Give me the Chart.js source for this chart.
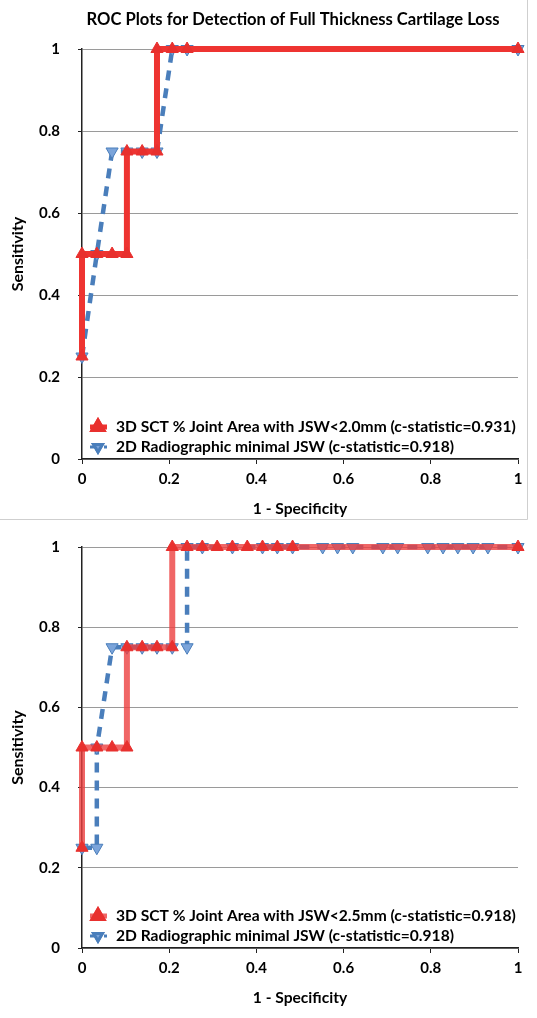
<!DOCTYPE html>
<html>
<head>
<meta charset="utf-8">
<script src="https://cdn.jsdelivr.net/npm/chart.js@4"></script>
<style>
  body { margin: 0; background: #fff; }
  .wrap { position: relative; width: 537px; }
  canvas { display: block; }
</style>
</head>
<body>
<div class="wrap" style="height:520px"><canvas id="rocTop"></canvas></div>
<div class="wrap" style="height:498px"><canvas id="rocBottom"></canvas></div>
<script>
// Data
const chartTitle = 'ROC Plots for Detection of Full Thickness Cartilage Loss';
const tickValues = [0, 0.2, 0.4, 0.6, 0.8, 1];

// top chart: 3D SCT JSW<2.0mm vs 2D radiographic
const sct20Label = '3D SCT % Joint Area with JSW<2.0mm (c-statistic=0.931)';
const sct20X = [0, 0, 0.034, 0.069, 0.103, 0.103, 0.138, 0.172, 0.172, 0.207, 0.241, 1];
const sct20Y = [0.25, 0.5, 0.5, 0.5, 0.5, 0.75, 0.75, 0.75, 1, 1, 1, 1];
const radTopLabel = '2D Radiographic minimal JSW (c-statistic=0.918)';
const radTopX = [0, 0.034, 0.069, 0.103, 0.138, 0.172, 0.207, 0.241, 1];
const radTopY = [0.25, 0.5, 0.75, 0.75, 0.75, 0.75, 1, 1, 1];

// bottom chart: 3D SCT JSW<2.5mm vs 2D radiographic
const sct25Label = '3D SCT % Joint Area with JSW<2.5mm (c-statistic=0.918)';
const sct25X = [0, 0, 0.034, 0.069, 0.103, 0.103, 0.138, 0.172, 0.207, 0.207, 0.241, 0.276, 0.31, 0.345, 0.379, 0.414, 0.448, 0.483, 1];
const sct25Y = [0.25, 0.5, 0.5, 0.5, 0.5, 0.75, 0.75, 0.75, 0.75, 1, 1, 1, 1, 1, 1, 1, 1, 1, 1];
const radBotLabel = '2D Radiographic minimal JSW (c-statistic=0.918)';
const radBotX = [0, 0.034, 0.034, 0.069, 0.103, 0.138, 0.172, 0.207, 0.241, 0.241, 0.276, 0.345, 0.414, 0.448, 0.483, 0.552, 0.586, 0.621, 0.69, 0.724, 0.793, 0.828, 0.862, 0.897, 0.931, 1];
const radBotY = [0.25, 0.25, 0.5, 0.75, 0.75, 0.75, 0.75, 0.75, 0.75, 1, 1, 1, 1, 1, 1, 1, 1, 1, 1, 1, 1, 1, 1, 1, 1, 1];

const FONT = 'Lato, "Open Sans", sans-serif';
const RED = '#e8302e';
const BLUE_LINE = '#4a7ebb';
const BLUE_FILL = '#7ba4da';

const toPoints = (xs, ys) => xs.map((x, i) => ({ x: x, y: ys[i] }));

function redSet(label, xs, ys, lineColor) {
    return {
        label: label,
        data: toPoints(xs, ys),
        showLine: true,
        borderColor: lineColor,
        borderWidth: 6,
        borderJoinStyle: 'round',
        pointStyle: 'triangle',
        pointRadius: 7,
        pointBackgroundColor: RED,
        pointBorderColor: RED,
        pointBorderWidth: 1,
        clip: false
    };
}

function blueSet(label, xs, ys) {
    return {
        label: label,
        data: toPoints(xs, ys),
        showLine: true,
        borderColor: BLUE_LINE,
        borderWidth: 4.5,
        borderDash: [10, 8],
        pointStyle: 'triangle',
        rotation: 180,
        pointRadius: 7,
        pointBackgroundColor: BLUE_FILL,
        pointBorderColor: BLUE_LINE,
        pointBorderWidth: 1,
        clip: false
    };
}

// legend drawn inside the plot, bottom-left like the Excel original
const innerLegend = {
    id: 'innerLegend',
    afterDraw(chart) {
        const ctx = chart.ctx;
        const a = chart.chartArea;
        const rows = [a.bottom - 32, a.bottom - 12];
        ctx.save();
        chart.data.datasets.forEach((ds, i) => {
            const y = rows[i];
            const x0 = a.left + 8, xm = a.left + 16, x1 = a.left + 25;
            ctx.strokeStyle = ds.borderColor;
            ctx.lineWidth = i === 0 ? 5 : 3;
            ctx.setLineDash(i === 0 ? [] : [4, 3]);
            ctx.beginPath(); ctx.moveTo(x0, y); ctx.lineTo(x1, y); ctx.stroke();
            ctx.setLineDash([]);
            Chart.helpers.drawPoint(ctx, {
                pointStyle: 'triangle', radius: 5, rotation: i === 0 ? 0 : 180, borderWidth: 1
            }, xm, y);
            ctx.fillStyle = ds.pointBackgroundColor;
            ctx.strokeStyle = ds.pointBorderColor;
            ctx.fill(); ctx.stroke();
            ctx.fillStyle = '#000';
            ctx.font = 'bold 15.6px ' + FONT;
            ctx.textBaseline = 'middle';
            ctx.textAlign = 'left';
            ctx.fillText(ds.label, a.left + 34, y);
        });
        ctx.restore();
    }
};

const topDecor = {
    id: 'topDecor',
    afterDraw(chart) {
        const ctx = chart.ctx;
        ctx.save();
        ctx.fillStyle = '#000';
        ctx.font = 'bold 16.6px ' + FONT;
        ctx.textAlign = 'center';
        ctx.textBaseline = 'middle';
        ctx.fillText(chartTitle, 293, 20);
        // frame of the first chart
        ctx.strokeStyle = '#cfcfcf';
        ctx.lineWidth = 1;
        ctx.beginPath();
        ctx.moveTo(0, 519.5); ctx.lineTo(527.5, 519.5); ctx.lineTo(527.5, 0);
        ctx.stroke();
        ctx.restore();
    }
};

function makeChart(id, datasets, padTop, padBottom, extraPlugins) {
    return new Chart(document.getElementById(id), {
        type: 'scatter',
        data: { datasets: datasets },
        options: {
            responsive: true,
            maintainAspectRatio: false,
            animation: false,
            layout: { padding: { top: padTop, right: 19, bottom: padBottom, left: 0 } },
            plugins: { legend: { display: false }, tooltip: { enabled: false } },
            scales: {
                x: {
                    type: 'linear', min: 0, max: 1,
                    afterBuildTicks: s => { s.ticks = tickValues.map(v => ({ value: v })); },
                    afterFit: s => { s.height = 61; },
                    border: { color: '#222', width: 1.5 },
                    grid: { drawOnChartArea: false, drawTicks: true, tickLength: 5, tickColor: '#222' },
                    ticks: { color: '#000', padding: 6, font: { family: FONT, size: 15, weight: 'bold' },
                             callback: v => String(v) },
                    title: { display: true, text: '1 - Specificity', color: '#000',
                             font: { family: FONT, size: 15.6, weight: 'bold' }, padding: { top: 0, bottom: 2 } }
                },
                y: {
                    type: 'linear', min: 0, max: 1,
                    afterBuildTicks: s => { s.ticks = tickValues.map(v => ({ value: v })); },
                    afterFit: s => { s.width = 82; },
                    border: { color: '#222', width: 1.5 },
                    grid: { color: '#9a9a9a', lineWidth: 1, drawTicks: true, tickLength: 4, tickColor: '#222' },
                    ticks: { color: '#000', padding: 18, font: { family: FONT, size: 15, weight: 'bold' },
                             callback: v => String(v) },
                    title: { display: true, text: 'Sensitivity', color: '#000',
                             font: { family: FONT, size: 16, weight: 'bold' }, padding: { top: 8, bottom: 0 } }
                }
            }
        },
        plugins: [innerLegend].concat(extraPlugins)
    });
}

makeChart('rocTop', [
    redSet(sct20Label, sct20X, sct20Y, '#ee3431'),
    blueSet(radTopLabel, radTopX, radTopY)
], 49, 0, [topDecor]);

makeChart('rocBottom', [
    redSet(sct25Label, sct25X, sct25Y, 'rgba(236, 64, 64, 0.8)'),
    blueSet(radBotLabel, radBotX, radBotY)
], 19, 9, []);
</script>
</body>
</html>
